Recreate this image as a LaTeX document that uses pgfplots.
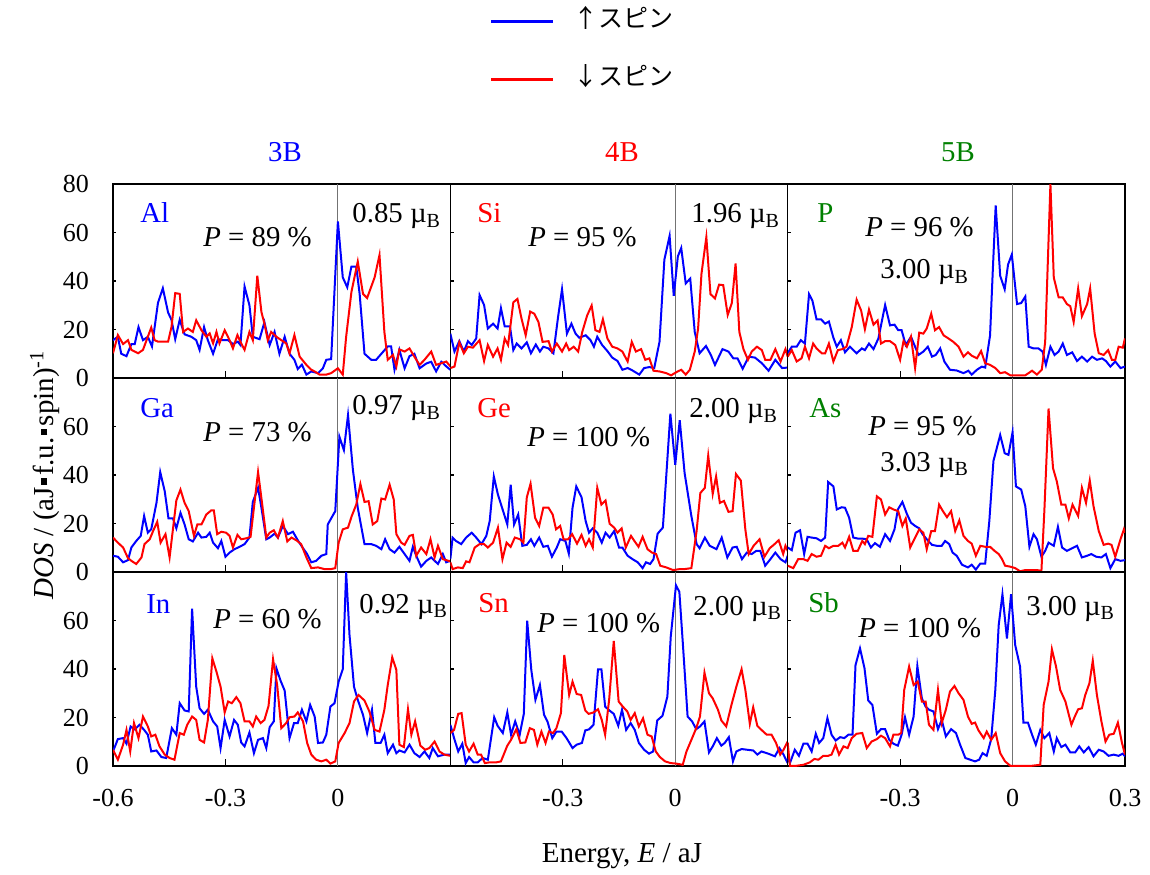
\documentclass[border=0pt]{standalone}
\usepackage{pgfplots}
\pgfplotsset{compat=1.18}
\usepackage{pgfplotstable}
\usepackage{fontspec}
\setmainfont{Liberation Serif}
\newfontfamily\jpfont{Noto Sans CJK JP}

\definecolor{upblue}{RGB}{0,0,255}
\definecolor{dnred}{RGB}{255,0,0}
\definecolor{grpgreen}{RGB}{0,128,0}

\newcommand\ticksize{\fontsize{13}{15}\selectfont}
\newcommand\panelsize{\fontsize{14.4}{16}\selectfont}
\newcommand\titlesize{\fontsize{14.5}{17}\selectfont}
\newcommand\legsize{\jpfont\fontsize{12.5}{14}\selectfont}
\newcommand\sq{\hspace{0.08em}\raisebox{0.22em}{\rule{0.22em}{0.22em}}\hspace{0.08em}}
\newcommand\muB{\textmu\textsubscript{B}}

% ---------------- densities of states (E in aJ, DOS) ----------------
% 3B : Al, Ga, In
\pgfplotstableread[row sep=\\]{E D\\
-0.600 15.6\\ -0.587 17\\ -0.578 10\\ -0.564 9\\ -0.551 14\\ -0.542 14\\ -0.532 21\\ -0.520 15.6\\ -0.507 17\\ -0.496 13\\
-0.480 31\\ -0.467 37\\ -0.453 27\\ -0.444 24\\ -0.434 16\\ -0.422 24\\ -0.409 18\\ -0.391 17\\ -0.378 15.6\\ -0.369 11.6\\
-0.357 21\\ -0.347 15.6\\ -0.333 10\\ -0.320 16\\ -0.307 15.6\\ -0.293 15.6\\ -0.280 14\\ -0.267 15\\ -0.260 13.6\\ -0.249 37.7\\
-0.236 30\\ -0.227 17\\ -0.209 16\\ -0.196 23\\ -0.182 13.6\\ -0.169 19\\ -0.156 10\\ -0.142 17\\ -0.129 10\\ -0.116 7.5\\
-0.107 3.7\\ -0.096 5.5\\ -0.084 1.4\\ -0.071 2.7\\ -0.053 2\\ -0.040 4\\ -0.031 7.5\\ -0.018 7.8\\ 0.000 64.6\\ 0.013 41.5\\
0.025 37.4\\ 0.036 45.9\\ 0.049 45.9\\ 0.058 34.7\\ 0.071 10\\ 0.089 7.5\\ 0.102 7.5\\ 0.116 10\\ 0.133 13\\ 0.142 13\\
0.151 3.4\\ 0.164 11.6\\ 0.178 4\\ 0.191 9\\ 0.204 10\\ 0.218 4\\ 0.236 6\\ 0.249 6.7\\ 0.262 2.7\\ 0.276 6.7\\ 0.289 4.8\\ 0.300 3.4\\
}\AlUp
\pgfplotstableread[row sep=\\]{E D\\
-0.600 10.2\\ -0.587 17.7\\ -0.573 14\\ -0.560 15.6\\ -0.551 11.6\\ -0.533 10.2\\ -0.520 11.6\\ -0.498 20.8\\ -0.489 15.6\\ -0.480 15\\
-0.453 15\\ -0.444 21\\ -0.434 35\\ -0.422 34.7\\ -0.413 19\\ -0.400 20.4\\ -0.387 19\\ -0.378 23.8\\ -0.364 19.7\\ -0.351 17\\
-0.342 18.4\\ -0.333 14.3\\ -0.324 19\\ -0.316 14.3\\ -0.302 19.7\\ -0.289 15.6\\ -0.280 12.2\\ -0.268 17.7\\ -0.258 14.3\\ -0.249 11.6\\
-0.236 19\\ -0.227 15.6\\ -0.215 42.2\\ -0.204 27.2\\ -0.196 22.4\\ -0.187 15.6\\ -0.178 19\\ -0.164 17\\ -0.151 15.6\\ -0.138 14.3\\
-0.129 10.2\\ -0.116 17.7\\ -0.102 8.8\\ -0.084 5.4\\ -0.071 3.4\\ -0.062 2.7\\ -0.049 1.4\\ -0.031 1.4\\ -0.018 2\\ 0.000 4\\
0.013 1.4\\ 0.022 17\\ 0.036 35.4\\ 0.053 48\\ 0.067 34.7\\ 0.078 33\\ 0.098 41.5\\ 0.111 50.7\\ 0.124 19\\ 0.133 7.5\\
0.147 9.5\\ 0.156 4.8\\ 0.164 11.8\\ 0.178 10.9\\ 0.191 12.2\\ 0.204 8.8\\ 0.218 5.4\\ 0.231 7.5\\ 0.249 10.9\\ 0.262 5.4\\ 0.276 6.1\\ 0.289 6.8\\ 0.300 4.8\\
}\AlDn
\pgfplotstableread[row sep=\\]{E D\\
-0.600 6.7\\ -0.587 6.3\\ -0.573 4\\ -0.560 4.9\\ -0.551 10.1\\ -0.538 12.8\\ -0.526 14.9\\ -0.517 23.1\\ -0.507 16.2\\ -0.498 17.6\\
-0.484 28.5\\ -0.474 41.2\\ -0.462 33.3\\ -0.452 22.1\\ -0.440 22.1\\ -0.431 18\\ -0.420 24.4\\ -0.409 19.6\\ -0.398 13.5\\ -0.387 12.6\\
-0.373 16.2\\ -0.364 14.2\\ -0.351 14.5\\ -0.342 16.2\\ -0.333 12.1\\ -0.320 9.8\\ -0.311 12.8\\ -0.300 6.3\\ -0.289 8\\ -0.276 9.4\\
-0.262 10.4\\ -0.249 11.5\\ -0.236 14.2\\ -0.227 28.9\\ -0.213 34.7\\ -0.204 26.5\\ -0.191 13.5\\ -0.182 14.2\\ -0.169 15.8\\ -0.160 14.2\\
-0.147 19\\ -0.133 15.6\\ -0.120 16.6\\ -0.107 13.1\\ -0.093 9.8\\ -0.082 7.4\\ -0.071 4\\ -0.058 4.6\\ -0.044 6.7\\ -0.031 7.4\\
-0.027 19.6\\ -0.018 22.1\\ -0.007 25.1\\ 0.004 55.8\\ 0.016 50.3\\ 0.027 64.7\\ 0.040 42.2\\ 0.053 26.5\\ 0.071 11.5\\ 0.089 11.5\\
0.102 10.8\\ 0.116 9.4\\ 0.126 13.5\\ 0.138 9.4\\ 0.151 8\\ 0.164 10.4\\ 0.178 7.4\\ 0.191 4.6\\ 0.200 10.4\\ 0.209 6.7\\
0.222 2.2\\ 0.236 4.6\\ 0.249 6\\ 0.267 3.3\\ 0.280 7.4\\ 0.289 4\\ 0.300 4.6\\
}\GaUp
\pgfplotstableread[row sep=\\]{E D\\
-0.600 14.2\\ -0.587 12.1\\ -0.573 10.1\\ -0.560 5.7\\ -0.551 4.6\\ -0.538 3.3\\ -0.524 6\\ -0.516 11.5\\ -0.502 13.5\\ -0.493 16.9\\
-0.482 20.7\\ -0.473 12.1\\ -0.460 15.6\\ -0.449 6\\ -0.431 29.5\\ -0.420 34\\ -0.409 28.5\\ -0.398 25.1\\ -0.384 14.9\\ -0.375 19.6\\
-0.364 19.6\\ -0.351 23.7\\ -0.338 25.4\\ -0.331 25.4\\ -0.322 15.6\\ -0.311 16.6\\ -0.298 16.2\\ -0.289 14.9\\ -0.280 10.1\\ -0.268 15.3\\
-0.258 13.5\\ -0.244 13.9\\ -0.233 14.5\\ -0.222 29.2\\ -0.213 41.2\\ -0.203 29.2\\ -0.191 14.2\\ -0.182 16.2\\ -0.171 17.2\\ -0.160 14.2\\
-0.147 21\\ -0.135 12.6\\ -0.124 14.2\\ -0.111 13.1\\ -0.098 11.5\\ -0.084 6\\ -0.071 1.6\\ -0.053 1.9\\ -0.036 1.2\\ -0.018 1.2\\
-0.007 1.6\\ 0.002 12.1\\ 0.013 17.6\\ 0.027 18.3\\ 0.037 23.1\\ 0.049 27.8\\ 0.060 36.3\\ 0.071 28.9\\ 0.082 29.2\\ 0.093 19.6\\
0.105 21\\ 0.116 30.3\\ 0.126 29.9\\ 0.138 36\\ 0.149 29.9\\ 0.156 15.6\\ 0.169 12.1\\ 0.178 11.2\\ 0.191 14.9\\ 0.200 15.3\\
0.209 6.7\\ 0.222 10.1\\ 0.236 7.4\\ 0.247 13.5\\ 0.258 6\\ 0.267 10.8\\ 0.280 5.3\\ 0.300 4.4\\
}\GaDn
\pgfplotstableread[row sep=\\]{E D\\
-0.600 6\\ -0.587 11.1\\ -0.573 11.5\\ -0.564 9.2\\ -0.553 16.3\\ -0.542 15.1\\ -0.529 17\\ -0.517 14.9\\ -0.507 12.9\\ -0.498 6\\
-0.484 6.4\\ -0.471 3.7\\ -0.458 3.3\\ -0.443 15.6\\ -0.431 12.9\\ -0.422 25.9\\ -0.409 22.9\\ -0.398 22.5\\ -0.389 64.9\\ -0.378 32.7\\
-0.369 23.8\\ -0.357 21.5\\ -0.347 23.2\\ -0.333 18.4\\ -0.322 16.3\\ -0.313 7.4\\ -0.302 19\\ -0.289 12.2\\ -0.277 19\\ -0.267 17\\
-0.258 9.7\\ -0.249 8.1\\ -0.236 13.8\\ -0.224 5.3\\ -0.213 10.8\\ -0.200 11.5\\ -0.191 7.4\\ -0.182 16\\ -0.171 18.4\\ -0.164 40.3\\
-0.153 35.2\\ -0.142 31.1\\ -0.129 11.5\\ -0.117 17.7\\ -0.107 17.7\\ -0.096 23.2\\ -0.084 18.4\\ -0.074 25.2\\ -0.062 20.4\\ -0.053 9.5\\
-0.040 9.7\\ -0.031 12.9\\ -0.020 24.5\\ -0.009 25.9\\ 0.002 34.8\\ 0.013 39.9\\ 0.022 80\\ 0.031 54\\ 0.043 32.7\\ 0.053 27.3\\
0.067 21.1\\ 0.078 13.6\\ 0.091 23.2\\ 0.100 9.5\\ 0.114 9.5\\ 0.124 12.9\\ 0.133 5.3\\ 0.147 8.8\\ 0.156 5.3\\ 0.164 6.4\\
0.178 5.6\\ 0.191 8.8\\ 0.204 5.3\\ 0.218 3.7\\ 0.231 6\\ 0.244 3.3\\ 0.253 7.4\\ 0.267 4\\ 0.284 4.7\\ 0.300 4.7\\
}\InUp
\pgfplotstableread[row sep=\\]{E D\\
-0.600 6.7\\ -0.587 2.6\\ -0.573 8.8\\ -0.564 14.9\\ -0.554 6\\ -0.544 17.7\\ -0.532 11.5\\ -0.520 20.4\\ -0.507 16.3\\ -0.498 12.2\\
-0.487 12.9\\ -0.476 8.1\\ -0.462 4.7\\ -0.449 3.3\\ -0.436 2.6\\ -0.422 13.6\\ -0.411 12.9\\ -0.402 17\\ -0.389 20.4\\ -0.378 19\\
-0.369 10.8\\ -0.357 9.7\\ -0.347 19\\ -0.335 44.4\\ -0.324 38.9\\ -0.313 32.7\\ -0.302 22.1\\ -0.293 26.6\\ -0.283 25.9\\ -0.271 28.4\\
-0.260 25.9\\ -0.249 18.4\\ -0.236 18.4\\ -0.227 16.3\\ -0.218 20.4\\ -0.206 17.7\\ -0.196 19\\ -0.185 24.8\\ -0.173 44\\ -0.162 33.4\\
-0.151 15.6\\ -0.138 17.7\\ -0.129 20.1\\ -0.116 20.4\\ -0.107 22.1\\ -0.093 18.4\\ -0.082 9.5\\ -0.071 4.7\\ -0.058 2.6\\ -0.044 1.9\\
-0.031 2.6\\ -0.020 1\\ -0.007 1.9\\ 0.002 9.5\\ 0.018 13.6\\ 0.031 17.7\\ 0.043 26.6\\ 0.055 29.3\\ 0.071 27\\ 0.084 22.5\\
0.098 14.9\\ 0.111 14.2\\ 0.124 23.2\\ 0.133 33.4\\ 0.145 44.8\\ 0.156 39.6\\ 0.164 8.8\\ 0.176 7.8\\ 0.187 23.4\\ 0.196 12.9\\
0.206 18.4\\ 0.220 8.4\\ 0.233 6.7\\ 0.244 7.4\\ 0.258 10.1\\ 0.271 6\\ 0.284 4.7\\ 0.300 4.2\\
}\InDn
% 4B : Si, Ge, Sn
\pgfplotstableread[row sep=\\]{E D\\
-0.600 18.3\\ -0.589 10.9\\ -0.576 15.2\\ -0.564 10.9\\ -0.553 15.2\\ -0.543 13.6\\ -0.531 16.3\\ -0.522 34.2\\ -0.510 30.1\\ -0.500 20.4\\
-0.486 22.4\\ -0.474 20.4\\ -0.465 28.8\\ -0.455 21.3\\ -0.441 21.3\\ -0.432 11.5\\ -0.423 14.2\\ -0.410 12.2\\ -0.396 14.7\\ -0.385 10.2\\
-0.372 13.8\\ -0.361 10.9\\ -0.352 12.9\\ -0.338 12.2\\ -0.325 10.2\\ -0.313 24.7\\ -0.302 36.6\\ -0.289 18.3\\ -0.277 22.4\\ -0.266 18.3\\
-0.256 16.6\\ -0.239 17.6\\ -0.226 15.6\\ -0.217 12.9\\ -0.208 17\\ -0.195 13.6\\ -0.181 11.1\\ -0.168 8.4\\ -0.154 7\\ -0.141 3.4\\
-0.127 4.1\\ -0.114 3.1\\ -0.096 1.4\\ -0.083 4.1\\ -0.069 4.5\\ -0.056 4.1\\ -0.042 14.9\\ -0.029 48.8\\ -0.015 58.6\\ -0.004 33.9\\
0.007 50.2\\ 0.016 53.6\\ 0.028 39\\ 0.040 41\\ 0.052 19\\ 0.065 10.2\\ 0.082 13.2\\ 0.095 9.5\\ 0.106 5.4\\ 0.126 11.9\\
0.142 10.9\\ 0.155 8.1\\ 0.166 8.1\\ 0.180 3.8\\ 0.196 8.8\\ 0.213 8.4\\ 0.231 6.1\\ 0.249 3\\ 0.267 7.5\\ 0.285 4.1\\ 0.300 4.3\\
}\SiUp
\pgfplotstableread[row sep=\\]{E D\\
-0.600 4.1\\ -0.589 4.7\\ -0.576 14.7\\ -0.564 10.2\\ -0.553 12.9\\ -0.540 12.5\\ -0.522 15.6\\ -0.510 7\\ -0.500 13.6\\ -0.486 8.8\\
-0.474 12.2\\ -0.465 7.5\\ -0.455 16.3\\ -0.446 13.6\\ -0.432 31.2\\ -0.421 32.6\\ -0.410 24.4\\ -0.399 17.6\\ -0.387 27.4\\ -0.376 26.5\\
-0.365 23.1\\ -0.354 14.9\\ -0.338 15.2\\ -0.329 10.9\\ -0.316 14.2\\ -0.302 10.9\\ -0.291 14.2\\ -0.283 11.5\\ -0.271 12.9\\ -0.259 10.9\\
-0.248 19\\ -0.235 25.8\\ -0.223 29.9\\ -0.213 19.7\\ -0.202 19\\ -0.193 24.2\\ -0.181 16.3\\ -0.168 12.9\\ -0.154 12.2\\ -0.141 10.9\\
-0.127 6.8\\ -0.116 14.9\\ -0.105 10.9\\ -0.091 11.9\\ -0.080 7.5\\ -0.069 8.1\\ -0.058 3\\ -0.042 2.7\\ -0.024 2\\ -0.011 1.1\\
0.003 2.4\\ 0.016 3.4\\ 0.028 1.4\\ 0.039 3.4\\ 0.052 10.9\\ 0.061 20.4\\ 0.070 43\\ 0.083 58.1\\ 0.094 34.6\\ 0.106 32.8\\
0.117 38.5\\ 0.128 38.3\\ 0.140 26\\ 0.151 30.9\\ 0.161 47.2\\ 0.171 19\\ 0.182 11.9\\ 0.194 7.5\\ 0.204 10.9\\ 0.218 12.9\\
0.231 11.5\\ 0.240 7.5\\ 0.254 7.5\\ 0.267 11.9\\ 0.281 6.8\\ 0.294 11.9\\ 0.300 8.8\\
}\SiDn
\pgfplotstableread[row sep=\\]{E D\\
-0.600 5.3\\ -0.594 14.2\\ -0.585 12.8\\ -0.571 11.5\\ -0.558 14.2\\ -0.543 16.2\\ -0.531 14.2\\ -0.517 11.5\\ -0.504 14.9\\ -0.495 21\\
-0.484 39.4\\ -0.473 31.9\\ -0.462 26.5\\ -0.448 19.6\\ -0.439 36\\ -0.430 19.6\\ -0.419 23.7\\ -0.408 10.8\\ -0.396 11.2\\ -0.385 13.5\\
-0.376 10.8\\ -0.363 14.2\\ -0.352 10.4\\ -0.340 10.8\\ -0.329 6.3\\ -0.316 10.1\\ -0.307 13.5\\ -0.293 12.8\\ -0.284 7.6\\ -0.274 26.5\\
-0.264 35.3\\ -0.250 30.8\\ -0.239 21\\ -0.230 16.2\\ -0.220 18\\ -0.208 16.2\\ -0.196 12.1\\ -0.186 16.2\\ -0.175 14.2\\ -0.163 16.9\\
-0.150 10.1\\ -0.141 10.1\\ -0.127 6.7\\ -0.114 5.3\\ -0.100 4\\ -0.087 1.6\\ -0.078 4\\ -0.067 3.3\\ -0.058 5.3\\ -0.047 15.8\\
-0.033 18.3\\ -0.013 65.3\\ 0.000 44.2\\ 0.012 62.6\\ 0.025 40.8\\ 0.043 23.1\\ 0.057 11.5\\ 0.065 9.8\\ 0.079 14.2\\ 0.092 10.8\\
0.110 9.4\\ 0.124 14.2\\ 0.139 6\\ 0.153 10.1\\ 0.164 10.4\\ 0.178 5.3\\ 0.191 8\\ 0.204 7.4\\ 0.216 8.7\\ 0.227 8.7\\
0.240 2.6\\ 0.254 5.3\\ 0.267 8\\ 0.281 5.3\\ 0.294 4\\ 0.300 6.7\\
}\GeUp
\pgfplotstableread[row sep=\\]{E D\\
-0.600 4\\ -0.594 1.2\\ -0.580 1.9\\ -0.567 1.6\\ -0.558 4.4\\ -0.549 4\\ -0.535 10.1\\ -0.522 11.5\\ -0.510 11.5\\ -0.500 10.1\\
-0.486 12.1\\ -0.473 18.3\\ -0.461 5.3\\ -0.450 12.1\\ -0.439 10.4\\ -0.428 14.2\\ -0.414 13.5\\ -0.405 12.1\\ -0.396 30.8\\ -0.386 36.4\\
-0.374 22.4\\ -0.363 19\\ -0.352 26.5\\ -0.338 26.5\\ -0.327 23.7\\ -0.318 17.6\\ -0.307 19\\ -0.298 13.5\\ -0.286 13.5\\ -0.275 15.6\\
-0.262 11.7\\ -0.250 15.3\\ -0.239 10.8\\ -0.230 13.5\\ -0.220 10.1\\ -0.208 34.7\\ -0.197 27.8\\ -0.186 29.5\\ -0.175 19.9\\ -0.163 18.3\\
-0.154 16.2\\ -0.143 18\\ -0.132 10.1\\ -0.118 14.9\\ -0.109 12.8\\ -0.098 10.4\\ -0.087 14.5\\ -0.074 9.4\\ -0.062 8\\ -0.051 7.4\\
-0.040 2.6\\ -0.024 1.9\\ -0.006 0.8\\ 0.012 1.2\\ 0.025 1.2\\ 0.043 1.6\\ 0.057 16.9\\ 0.067 32.6\\ 0.079 34.7\\ 0.088 48\\
0.100 32.2\\ 0.109 39.4\\ 0.119 28.5\\ 0.130 29.3\\ 0.142 24.8\\ 0.153 25.1\\ 0.162 40.4\\ 0.175 37.7\\ 0.187 17.6\\ 0.196 7.4\\
0.209 10.8\\ 0.225 13.5\\ 0.238 6.3\\ 0.252 9.8\\ 0.265 11.5\\ 0.276 13.1\\ 0.288 7.4\\ 0.294 10.8\\ 0.300 8.7\\
}\GeDn
\pgfplotstableread[row sep=\\]{E D\\
-0.600 17\\ -0.590 11.5\\ -0.579 6\\ -0.568 9.2\\ -0.559 1.2\\ -0.550 3.7\\ -0.538 1.5\\ -0.527 1.5\\ -0.514 3.3\\ -0.500 2.6\\
-0.483 20.1\\ -0.474 16.6\\ -0.460 13.6\\ -0.448 22.1\\ -0.438 12.9\\ -0.427 18.4\\ -0.415 12.9\\ -0.404 21.5\\ -0.395 59.9\\ -0.384 39.6\\
-0.373 27.3\\ -0.361 33.4\\ -0.350 21.1\\ -0.341 18.4\\ -0.328 11.5\\ -0.317 14.2\\ -0.303 14.2\\ -0.290 11.5\\ -0.274 7.4\\ -0.263 8.8\\
-0.249 9.5\\ -0.240 14.7\\ -0.230 15.1\\ -0.218 17\\ -0.206 39.9\\ -0.197 39.9\\ -0.187 24.5\\ -0.178 23.2\\ -0.164 21.5\\ -0.152 16.6\\
-0.142 23.2\\ -0.131 14.9\\ -0.119 17.7\\ -0.108 14.9\\ -0.097 9.5\\ -0.083 6.7\\ -0.070 5.1\\ -0.059 6\\ -0.048 18.8\\ -0.034 20.7\\
-0.021 28.6\\ -0.012 53.3\\ 0.002 74.5\\ 0.011 71.8\\ 0.020 51.2\\ 0.033 20.4\\ 0.045 18.4\\ 0.056 15.2\\ 0.066 16.3\\ 0.078 18.4\\
0.090 5.6\\ 0.100 8.1\\ 0.111 11.5\\ 0.123 8.4\\ 0.132 9.5\\ 0.143 11.9\\ 0.154 1.9\\ 0.163 6\\ 0.177 7\\ 0.192 6.7\\
0.208 6.4\\ 0.219 4.7\\ 0.230 6\\ 0.248 5.1\\ 0.266 4\\ 0.278 7.4\\ 0.289 4.7\\ 0.300 1.2\\
}\SnUp
\pgfplotstableread[row sep=\\]{E D\\
-0.600 13.6\\ -0.590 14.9\\ -0.579 21.5\\ -0.570 21.8\\ -0.559 8.8\\ -0.550 6\\ -0.538 9.2\\ -0.527 4.7\\ -0.518 4.7\\ -0.508 1.2\\
-0.496 1.5\\ -0.478 1.5\\ -0.465 1.9\\ -0.448 8.4\\ -0.438 10.8\\ -0.424 15.2\\ -0.413 9.5\\ -0.400 9.7\\ -0.388 15.6\\ -0.377 14.9\\
-0.368 8.8\\ -0.357 14.2\\ -0.346 9.5\\ -0.337 14.2\\ -0.326 13.6\\ -0.317 15.6\\ -0.305 21.8\\ -0.296 45.8\\ -0.283 29.3\\ -0.274 34.8\\
-0.263 29.7\\ -0.251 29.3\\ -0.240 22.9\\ -0.231 21.5\\ -0.218 22.1\\ -0.206 23.4\\ -0.196 19\\ -0.187 12.9\\ -0.176 27.9\\ -0.164 51.6\\
-0.151 26.6\\ -0.140 24.5\\ -0.128 22.5\\ -0.119 19\\ -0.108 21.8\\ -0.097 16.3\\ -0.086 19.7\\ -0.074 12.9\\ -0.063 12.2\\ -0.052 6\\
-0.041 3.7\\ -0.027 1.9\\ -0.012 1.2\\ 0.002 1\\ 0.020 0.5\\ 0.030 6\\ 0.045 11.5\\ 0.056 15.6\\ 0.066 20.4\\ 0.078 38.5\\
0.090 30\\ 0.100 27.9\\ 0.114 23.2\\ 0.123 18.8\\ 0.136 16.3\\ 0.150 25.2\\ 0.163 32.7\\ 0.177 39.9\\ 0.187 31.4\\ 0.199 17.4\\
0.208 24.2\\ 0.219 16.6\\ 0.230 14.9\\ 0.244 12.9\\ 0.257 12.9\\ 0.269 9.5\\ 0.280 4.7\\ 0.289 6.7\\ 0.300 10.1\\
}\SnDn
% 5B : P, As, Sb
\pgfplotstableread[row sep=\\]{E D\\
-0.600 10.2\\ -0.589 12.9\\ -0.576 12.9\\ -0.565 15.6\\ -0.554 14.2\\ -0.543 34.6\\ -0.534 31.9\\ -0.523 24.2\\ -0.511 24.2\\ -0.500 22.4\\
-0.490 23.3\\ -0.478 16.6\\ -0.469 12.9\\ -0.458 15.6\\ -0.447 10.6\\ -0.434 12.9\\ -0.416 10.2\\ -0.402 12.2\\ -0.394 11.5\\ -0.383 14.2\\
-0.371 11.9\\ -0.358 16.3\\ -0.340 30.1\\ -0.327 21.7\\ -0.315 22\\ -0.305 19.7\\ -0.296 19.7\\ -0.285 13.6\\ -0.271 17\\ -0.251 9.5\\
-0.238 10.9\\ -0.226 12.9\\ -0.215 8.8\\ -0.205 9.5\\ -0.193 12.2\\ -0.182 6.8\\ -0.167 3.4\\ -0.149 3.1\\ -0.131 2\\ -0.118 3\\
-0.109 1.4\\ -0.095 3.4\\ -0.082 4.7\\ -0.073 4.3\\ -0.060 17.6\\ -0.053 43.4\\ -0.045 71.2\\ -0.033 42.1\\ -0.021 36.6\\ -0.012 46.8\\
-0.002 50.9\\ 0.012 30.5\\ 0.023 30.9\\ 0.034 33.6\\ 0.043 12.9\\ 0.056 12.2\\ 0.069 12.2\\ 0.080 10.9\\ 0.089 5.4\\ 0.101 12.9\\
0.112 9.5\\ 0.123 10.9\\ 0.134 14.2\\ 0.145 9.5\\ 0.159 10.6\\ 0.172 7\\ 0.185 8.8\\ 0.199 6.8\\ 0.212 8.8\\ 0.225 7.5\\
0.239 8.1\\ 0.249 7\\ 0.261 4.7\\ 0.274 6.8\\ 0.288 4.1\\ 0.300 4.7\\
}\PUp
\pgfplotstableread[row sep=\\]{E D\\
-0.600 8.8\\ -0.589 11.5\\ -0.576 6.8\\ -0.563 8.1\\ -0.554 12.9\\ -0.543 8.1\\ -0.532 14.2\\ -0.523 12.2\\ -0.509 10.2\\ -0.500 10.2\\
-0.490 14.2\\ -0.478 6.8\\ -0.466 11.5\\ -0.454 11.9\\ -0.443 12.9\\ -0.429 21\\ -0.416 32.3\\ -0.404 27.8\\ -0.394 20.1\\ -0.383 28.2\\
-0.371 22\\ -0.360 23.7\\ -0.351 14.2\\ -0.340 15.2\\ -0.327 15.2\\ -0.313 13.6\\ -0.300 7.5\\ -0.291 15.2\\ -0.282 12.9\\ -0.271 17\\
-0.260 4.1\\ -0.249 18.7\\ -0.238 18.3\\ -0.229 20.4\\ -0.217 26.5\\ -0.207 19.7\\ -0.196 21\\ -0.184 17.6\\ -0.171 16.3\\ -0.158 14.9\\
-0.144 12.9\\ -0.131 8.8\\ -0.119 10.6\\ -0.109 9.2\\ -0.095 8.1\\ -0.084 11.1\\ -0.073 6.1\\ -0.060 5.4\\ -0.046 4.1\\ -0.033 2\\
-0.020 2.4\\ -0.006 1.1\\ 0.016 1.1\\ 0.034 1.1\\ 0.052 3\\ 0.065 1.4\\ 0.078 3.4\\ 0.087 14.9\\ 0.101 80\\ 0.110 41.4\\
0.123 33.2\\ 0.134 33.2\\ 0.145 30.5\\ 0.154 29.6\\ 0.163 23.1\\ 0.175 36.9\\ 0.185 25.5\\ 0.199 30.5\\ 0.207 36.9\\ 0.219 18.3\\
0.230 10.2\\ 0.243 9.5\\ 0.255 11.5\\ 0.265 7.5\\ 0.274 7.5\\ 0.283 12.9\\ 0.294 12.5\\ 0.300 16.3\\
}\PDn
\pgfplotstableread[row sep=\\]{E D\\
-0.600 10.1\\ -0.589 9\\ -0.579 16.2\\ -0.567 17.2\\ -0.556 7.4\\ -0.547 14.5\\ -0.536 14.2\\ -0.523 13.9\\ -0.511 12.8\\ -0.500 14.2\\
-0.492 37.1\\ -0.478 35.3\\ -0.469 25.8\\ -0.456 26.7\\ -0.447 26.5\\ -0.436 22.4\\ -0.425 14.2\\ -0.413 13.8\\ -0.402 13.8\\ -0.389 13.5\\
-0.378 10.1\\ -0.367 11.9\\ -0.354 10.4\\ -0.340 15.6\\ -0.327 12.8\\ -0.315 17.6\\ -0.306 25.8\\ -0.294 28.9\\ -0.282 24\\ -0.271 20.3\\
-0.260 19\\ -0.249 18\\ -0.240 15.6\\ -0.229 13.5\\ -0.215 11.2\\ -0.202 10.8\\ -0.189 10.8\\ -0.180 12.8\\ -0.169 11.5\\ -0.160 8\\
-0.149 6.7\\ -0.135 3\\ -0.119 1.9\\ -0.109 3\\ -0.098 1\\ -0.086 3.5\\ -0.073 3.5\\ -0.062 21\\ -0.051 45.8\\ -0.033 56.5\\
-0.021 49\\ -0.011 48.3\\ 0.000 57.6\\ 0.009 35.3\\ 0.023 34\\ 0.034 27.1\\ 0.045 10.4\\ 0.056 15.6\\ 0.065 13.5\\ 0.077 6.3\\
0.087 8.7\\ 0.096 12.1\\ 0.110 10.8\\ 0.121 18.6\\ 0.132 10.1\\ 0.145 8.7\\ 0.159 9.8\\ 0.172 10.8\\ 0.185 6\\ 0.199 6.7\\
0.210 7.4\\ 0.223 6.3\\ 0.237 6\\ 0.249 7.4\\ 0.261 1.6\\ 0.274 5.3\\ 0.288 4.6\\ 0.300 4.9\\
}\AsUp
\pgfplotstableread[row sep=\\]{E D\\
-0.600 2.6\\ -0.585 1.6\\ -0.572 5.3\\ -0.558 5.3\\ -0.547 4.6\\ -0.536 7.4\\ -0.523 6.3\\ -0.511 6.7\\ -0.500 10.8\\ -0.490 9.8\\
-0.478 10.8\\ -0.465 10.8\\ -0.454 12.1\\ -0.447 10.1\\ -0.436 14.5\\ -0.425 8.7\\ -0.413 8.7\\ -0.401 12.8\\ -0.394 11.5\\ -0.385 14.9\\
-0.374 14.5\\ -0.362 31.2\\ -0.351 29.9\\ -0.340 23.7\\ -0.329 26.7\\ -0.318 25.8\\ -0.305 25.1\\ -0.294 19\\ -0.285 22.1\\ -0.273 10.1\\
-0.260 14.2\\ -0.249 17.6\\ -0.238 16.2\\ -0.229 9.4\\ -0.217 16.9\\ -0.207 16.9\\ -0.196 27.8\\ -0.187 25.4\\ -0.175 22.6\\ -0.164 25.1\\
-0.153 16.9\\ -0.142 21.3\\ -0.131 14.9\\ -0.119 12.8\\ -0.109 11.7\\ -0.098 6.7\\ -0.086 10.8\\ -0.073 10.4\\ -0.060 10.4\\ -0.048 8.7\\
-0.037 7.4\\ -0.028 5.3\\ -0.020 2.6\\ -0.006 2.2\\ 0.007 1.6\\ 0.020 0.3\\ 0.034 0.8\\ 0.052 0.8\\ 0.065 0.8\\ 0.077 0.5\\
0.085 25.8\\ 0.096 67.4\\ 0.108 42.8\\ 0.118 37.4\\ 0.130 27.8\\ 0.141 27.8\\ 0.150 22.1\\ 0.160 27.8\\ 0.175 23.1\\ 0.185 34.7\\
0.196 28.5\\ 0.206 37.7\\ 0.216 27.1\\ 0.230 16.9\\ 0.243 11.2\\ 0.255 11.7\\ 0.264 11.2\\ 0.274 6.3\\ 0.288 13.5\\ 0.297 17.6\\ 0.300 16.2\\
}\AsDn
\pgfplotstableread[row sep=\\]{E D\\
-0.600 3.3\\ -0.594 1.2\\ -0.581 6.7\\ -0.570 4.2\\ -0.558 9.2\\ -0.547 9.2\\ -0.536 6\\ -0.525 13.3\\ -0.516 9.5\\ -0.505 11.5\\
-0.494 19.7\\ -0.483 12.9\\ -0.472 10.5\\ -0.460 11.9\\ -0.449 11.5\\ -0.438 12.9\\ -0.427 12.9\\ -0.419 41.6\\ -0.407 48.5\\ -0.395 40.3\\
-0.385 27\\ -0.374 25.2\\ -0.362 13.3\\ -0.351 15.2\\ -0.340 15.2\\ -0.329 10.8\\ -0.318 9.2\\ -0.306 8.4\\ -0.296 12.9\\ -0.287 20.1\\
-0.276 12.9\\ -0.264 20.4\\ -0.254 41.2\\ -0.242 27.9\\ -0.232 24.5\\ -0.223 23.2\\ -0.211 22.5\\ -0.199 15.2\\ -0.189 19\\ -0.178 12.2\\
-0.164 15.2\\ -0.151 13.6\\ -0.140 8.8\\ -0.126 3.3\\ -0.113 2.6\\ -0.100 1.9\\ -0.089 2.6\\ -0.080 5.3\\ -0.069 4.2\\ -0.057 11.1\\
-0.046 31.4\\ -0.037 58.1\\ -0.027 70.8\\ -0.015 52.6\\ -0.004 70.8\\ 0.007 49.9\\ 0.020 41\\ 0.029 17.9\\ 0.041 17.9\\ 0.052 12.9\\
0.062 8.8\\ 0.074 14.9\\ 0.085 11.5\\ 0.098 13.6\\ 0.110 6\\ 0.118 11.5\\ 0.130 7.8\\ 0.141 8.8\\ 0.154 5.6\\ 0.167 5.6\\
0.178 8.1\\ 0.190 5.6\\ 0.203 7.8\\ 0.216 4\\ 0.230 6.7\\ 0.243 6\\ 0.256 4.2\\ 0.270 4.7\\ 0.283 4.2\\ 0.294 5.1\\ 0.300 4\\
}\SbUp
\pgfplotstableread[row sep=\\]{E D\\
-0.600 9.7\\ -0.594 0.1\\ -0.576 0.1\\ -0.558 0.5\\ -0.541 1.5\\ -0.529 2.9\\ -0.518 2.6\\ -0.505 4.2\\ -0.492 4.2\\ -0.483 4.7\\
-0.472 8.8\\ -0.463 4.7\\ -0.451 8.1\\ -0.440 7.4\\ -0.429 11.5\\ -0.416 13.3\\ -0.401 13.6\\ -0.389 7.4\\ -0.376 10.1\\ -0.362 11.1\\
-0.351 12.5\\ -0.340 11.5\\ -0.327 8.1\\ -0.318 12.9\\ -0.305 12.9\\ -0.297 13.6\\ -0.289 31.4\\ -0.276 41\\ -0.264 33.4\\ -0.253 34.8\\
-0.242 26.6\\ -0.232 26.6\\ -0.223 17\\ -0.211 14.9\\ -0.199 31.4\\ -0.189 17.7\\ -0.178 23.2\\ -0.167 30.7\\ -0.155 33\\ -0.144 30\\
-0.131 27.3\\ -0.119 20.4\\ -0.109 17.4\\ -0.100 17.9\\ -0.091 14.7\\ -0.077 11.5\\ -0.069 14.2\\ -0.057 10.8\\ -0.045 13.6\\ -0.033 5.3\\
-0.020 1.9\\ -0.006 0.1\\ 0.016 0.1\\ 0.052 0.1\\ 0.074 0.5\\ 0.083 25.2\\ 0.096 34.8\\ 0.105 48.1\\ 0.116 41\\ 0.127 31.4\\
0.141 26.6\\ 0.157 17\\ 0.166 20.4\\ 0.175 23.4\\ 0.185 23.8\\ 0.194 29.3\\ 0.205 34.1\\ 0.214 43.4\\ 0.225 29.3\\ 0.237 18.4\\
0.248 10.1\\ 0.258 12.9\\ 0.270 13.3\\ 0.281 17.9\\ 0.292 9.5\\ 0.300 4.7\\
}\SbDn

\tikzset{zeroline/.style={black!55, line width=0.5pt},
  lbl/.style={anchor=base west, inner sep=0pt, font=\panelsize}}

\pgfplotsset{
  panel/.style={
    scale only axis, width=168.67pt, height=97pt, anchor=south west,
    xmin=-0.6, xmax=0.3, ymin=0, ymax=80,
    xtick={-0.6,-0.3,0,0.3}, ytick={0,20,40,60,80},
    xticklabels={}, yticklabels={},
    tick align=inside, tick pos=left,
    xtick style={black, line width=0.6pt, /pgfplots/major tick length=3.3pt},
    ytick style={black, line width=0.6pt, /pgfplots/major tick length=1.6pt},
    axis line style={black, line width=0.8pt},
    ticklabel style={font=\ticksize},
    xticklabel style={yshift=-8pt},
    yticklabel style={xshift=-8.5pt},
  },
  up/.style={upblue, line width=1pt},
  dn/.style={dnred, line width=1pt},
}

\begin{document}
\begin{tikzpicture}
\path (0pt,0pt) rectangle (575pt,435pt);

% ---- row 1 ----
\begin{axis}[panel, at={(56.5pt,246pt)}, yticklabels={0,20,40,60,80}]
  \draw[zeroline] (axis cs:0,0) -- (axis cs:0,80);
  \addplot[up] table[x=E,y=D] {\AlUp};
  \addplot[dn] table[x=E,y=D] {\AlDn};
\end{axis}
\begin{axis}[panel, at={(225.17pt,246pt)},
    legend style={at={(0.1176,1.8995)}, anchor=north west, draw=none, fill=none,
      inner sep=0pt, outer sep=0pt, row sep=17pt, column sep=9.5pt, font=\legsize,
      nodes={inner sep=0pt, text height=9pt, text depth=3pt}},
    legend cell align=left,
    legend image code/.code={\draw[#1, line width=1.2pt] (0pt,0pt) -- (31pt,0pt);}]
  \draw[zeroline] (axis cs:0,0) -- (axis cs:0,80);
  \addplot[up] table[x=E,y=D] {\SiUp};
  \addlegendentry{↑スピン}
  \addplot[dn] table[x=E,y=D] {\SiDn};
  \addlegendentry{↓スピン}
\end{axis}
\begin{axis}[panel, at={(393.83pt,246pt)}]
  \draw[zeroline] (axis cs:0,0) -- (axis cs:0,80);
  \addplot[up] table[x=E,y=D] {\PUp};
  \addplot[dn] table[x=E,y=D] {\PDn};
\end{axis}

% ---- row 2 ----
\begin{axis}[panel, at={(56.5pt,149pt)}, yticklabels={0,20,40,60,{}}]
  \draw[zeroline] (axis cs:0,0) -- (axis cs:0,80);
  \addplot[up] table[x=E,y=D] {\GaUp};
  \addplot[dn] table[x=E,y=D] {\GaDn};
\end{axis}
\begin{axis}[panel, at={(225.17pt,149pt)}]
  \draw[zeroline] (axis cs:0,0) -- (axis cs:0,80);
  \addplot[up] table[x=E,y=D] {\GeUp};
  \addplot[dn] table[x=E,y=D] {\GeDn};
\end{axis}
\begin{axis}[panel, at={(393.83pt,149pt)}]
  \draw[zeroline] (axis cs:0,0) -- (axis cs:0,80);
  \addplot[up] table[x=E,y=D] {\AsUp};
  \addplot[dn] table[x=E,y=D] {\AsDn};
\end{axis}

% ---- row 3 ----
\begin{axis}[panel, at={(56.5pt,52pt)}, yticklabels={0,20,40,60,{}},
    xticklabels={-0.6,-0.3,0,{}}]
  \draw[zeroline] (axis cs:0,0) -- (axis cs:0,80);
  \addplot[up] table[x=E,y=D] {\InUp};
  \addplot[dn] table[x=E,y=D] {\InDn};
\end{axis}
\begin{axis}[panel, at={(225.17pt,52pt)}, xticklabels={{},-0.3,0,{}}]
  \draw[zeroline] (axis cs:0,0) -- (axis cs:0,80);
  \addplot[up] table[x=E,y=D] {\SnUp};
  \addplot[dn] table[x=E,y=D] {\SnDn};
\end{axis}
\begin{axis}[panel, at={(393.83pt,52pt)}, xticklabels={{},-0.3,0,0.3}]
  \draw[zeroline] (axis cs:0,0) -- (axis cs:0,80);
  \addplot[up] table[x=E,y=D] {\SbUp};
  \addplot[dn] table[x=E,y=D] {\SbDn};
\end{axis}

% ---- annotations (pixel-like grid, origin top left) ----
\begin{scope}[x=0.5pt, y=-0.5pt, yshift=435pt]
  \node[anchor=base, text=upblue, font=\panelsize] at (285,162) {3B};
  \node[anchor=base, text=dnred, font=\panelsize] at (622,162) {4B};
  \node[anchor=base, text=grpgreen, font=\panelsize] at (958,162) {5B};

  \node[lbl, text=upblue] at (140,223) {Al};
  \node[lbl] at (203,247) {\textit{P} = 89 \%};
  \node[lbl] at (352,223) {0.85 \muB};
  \node[lbl, text=dnred] at (477,223) {Si};
  \node[lbl] at (528,247) {\textit{P} = 95 \%};
  \node[lbl] at (691,223) {1.96 \muB};
  \node[lbl, text=grpgreen] at (817,223) {P};
  \node[lbl] at (865,237) {\textit{P} = 96 \%};
  \node[lbl] at (880,279) {3.00 \muB};

  \node[lbl, text=upblue] at (140,418) {Ga};
  \node[lbl] at (203,441) {\textit{P} = 73 \%};
  \node[lbl] at (352,415) {0.97 \muB};
  \node[lbl, text=dnred] at (477,418) {Ge};
  \node[lbl] at (527,447) {\textit{P} = 100 \%};
  \node[lbl] at (689,418) {2.00 \muB};
  \node[lbl, text=grpgreen] at (809,418) {As};
  \node[lbl] at (868,435) {\textit{P} = 95 \%};
  \node[lbl] at (880,471) {3.03 \muB};

  \node[lbl, text=upblue] at (146,613) {In};
  \node[lbl] at (213,628) {\textit{P} = 60 \%};
  \node[lbl] at (359,613) {0.92 \muB};
  \node[lbl, text=dnred] at (478,612) {Sn};
  \node[lbl] at (537,632) {\textit{P} = 100 \%};
  \node[lbl] at (693,615) {2.00 \muB};
  \node[lbl, text=grpgreen] at (808,612) {Sb};
  \node[lbl] at (858,637) {\textit{P} = 100 \%};
  \node[lbl] at (1026,615) {3.00 \muB};

  \node[rotate=90, font=\titlesize] at (45,475)
    {\textit{DOS} / (aJ\sq f.u.\sq spin)\textsuperscript{-1}};
  \node[anchor=base, font=\titlesize] at (622,862) {Energy, \textit{E} / aJ};
\end{scope}
\end{tikzpicture}
\end{document}
